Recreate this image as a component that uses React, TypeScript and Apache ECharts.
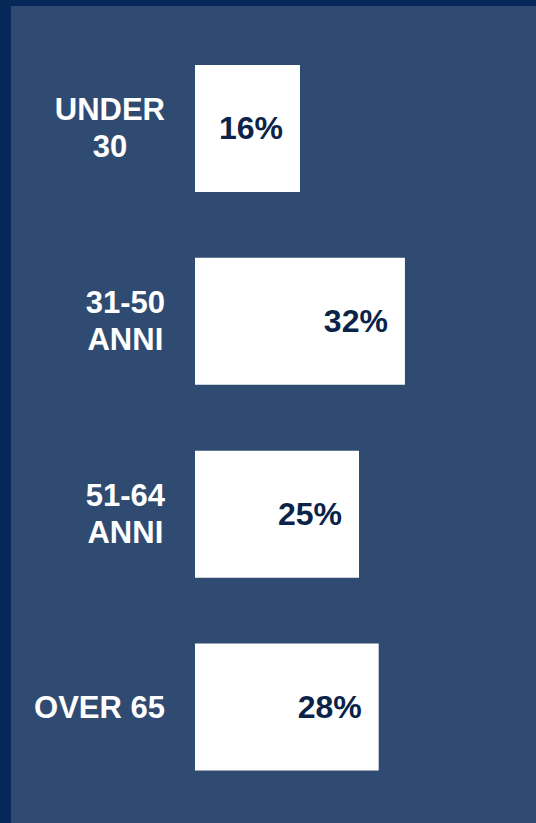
import React, { useEffect, useRef } from "react";
import * as echarts from "echarts";

const categories = ["UNDER\n30", "31-50\nANNI", "51-64\nANNI", "OVER 65"];
const values = [16, 32, 25, 28];

const FONT = '"Liberation Sans", Arial, sans-serif';

export default function App() {
  const ref = useRef<HTMLDivElement>(null);
  useEffect(() => {
    if (!ref.current) return;
    const chart = echarts.init(ref.current, undefined, { renderer: "svg" });
    chart.setOption({
      animation: false,
      backgroundColor: "#062858",
      graphic: [
        {
          type: "rect",
          z: -10,
          silent: true,
          shape: { x: 11, y: 6, width: 536 - 11, height: 823 - 6 },
          style: { fill: "#2f4b72" },
        },
      ],
      grid: { left: 195, right: 13, top: 32, bottom: 19.5, containLabel: false },
      xAxis: {
        type: "value",
        min: 0,
        max: 50,
        show: false,
      },
      yAxis: {
        type: "category",
        data: categories,
        inverse: true,
        axisLine: { show: false },
        axisTick: { show: false },
        splitLine: { show: false },
        axisLabel: {
          margin: 30,
          align: "right",
          formatter: (v: string) =>
            v
              .split("\n")
              .map((l) => `{a|${l}}`)
              .join("\n"),
          rich: {
            a: {
              align: "center",
              color: "#ffffff",
              fontSize: 31,
              fontWeight: "bold",
              fontFamily: FONT,
              lineHeight: 37,
            },
          },
        },
      },
      series: [
        {
          type: "bar",
          data: values,
          barWidth: 127,
          itemStyle: { color: "#ffffff" },
          label: {
            show: true,
            position: "insideRight",
            distance: 17,
            formatter: "{c}%",
            color: "#0b2349",
            fontSize: 32,
            fontWeight: "bold",
            fontFamily: FONT,
          },
        },
      ],
    });
    return () => chart.dispose();
  }, []);
  return (
    <div
      ref={ref}
      style={{ position: "fixed", left: 0, top: 0, width: 536, height: 823 }}
    />
  );
}
